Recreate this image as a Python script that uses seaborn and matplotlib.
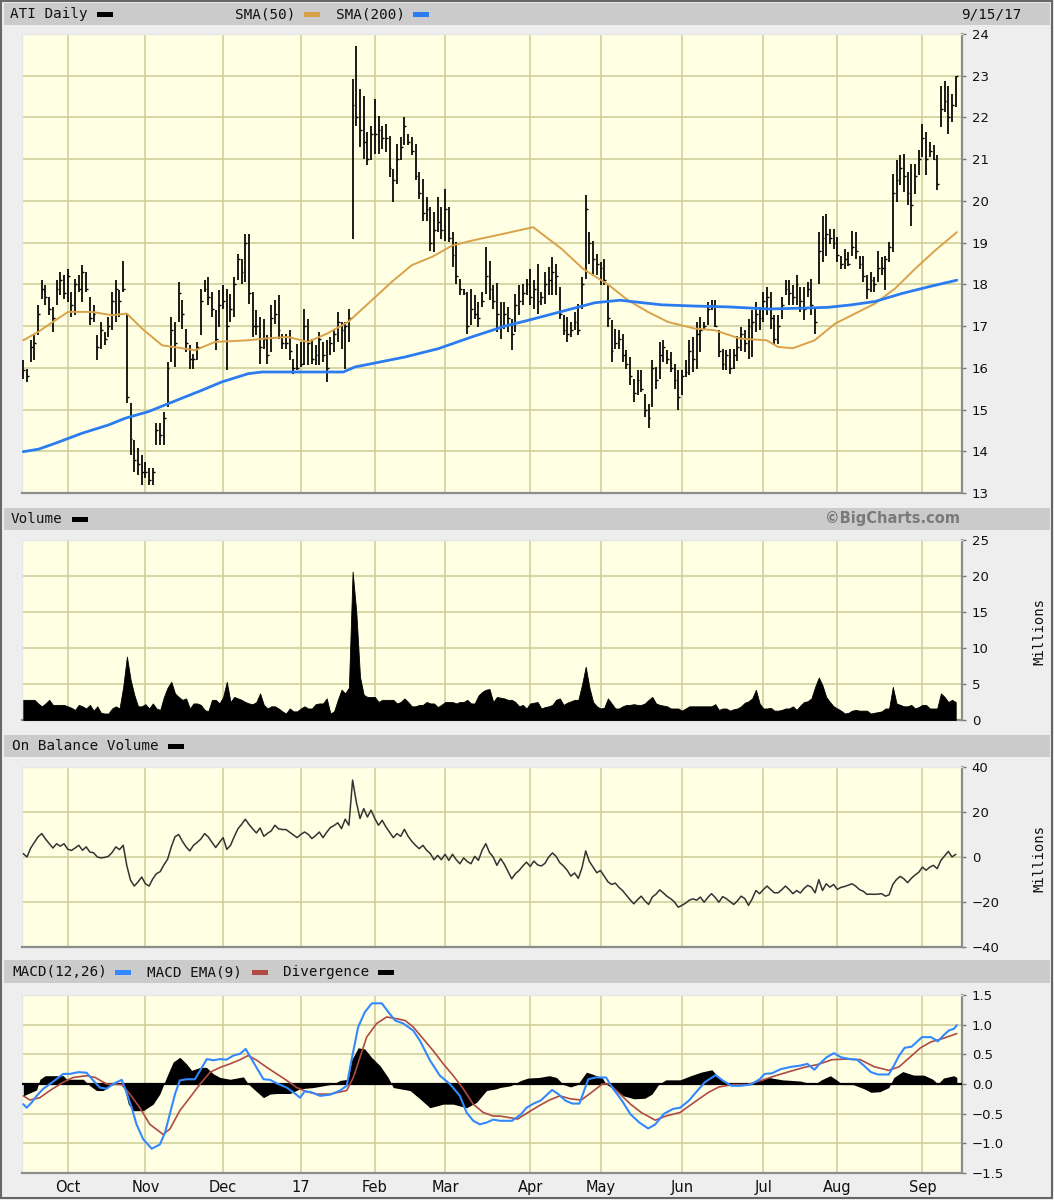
import numpy as np
import pandas as pd
import matplotlib
matplotlib.use("Agg")
import matplotlib.pyplot as plt
import seaborn as sns
from matplotlib.patches import Rectangle

sns.set_style("white")
plt.rcParams['font.family'] = ['DejaVu Sans']

# ---------------- data ----------------
holidays = ["2016-11-24", "2016-12-26", "2017-01-02", "2017-01-16", "2017-02-20",
            "2017-04-14", "2017-05-29", "2017-07-04", "2017-09-04"]
dates = pd.bdate_range("2016-09-15", "2017-09-15", freq="C", holidays=holidays)

highs = [
    16.18, 15.98, 16.66, 16.78, 17.50, 18.10, 17.98, 17.70, 17.46, 18.10,
    18.30, 18.22, 18.38, 17.82, 18.14, 18.22, 18.46, 18.30, 17.70, 17.50,
    16.78, 17.10, 16.86, 17.22, 17.82, 18.10, 17.86, 18.57, 17.30, 15.15,
    14.27, 14.07, 13.91, 13.75, 13.59, 13.59, 14.67, 14.67, 14.95, 16.14,
    17.22, 17.10, 18.06, 17.62, 16.94, 16.54, 16.34, 16.62, 17.90, 18.10,
    18.18, 17.82, 17.38, 17.86, 17.98, 17.90, 17.78, 18.18, 18.73, 18.61,
    19.21, 19.21, 17.82, 17.38, 17.22, 17.18, 16.78, 17.50, 17.62, 17.74,
    16.82, 16.82, 16.90, 16.22, 16.58, 16.62, 17.42, 17.18, 16.70, 16.54,
    16.86, 16.62, 16.66, 16.74, 16.94, 17.34, 17.10, 17.10, 17.42, 22.92,
    23.72, 22.68, 22.52, 21.64, 21.80, 22.44, 22.04, 21.80, 21.84, 21.56,
    20.77, 21.37, 21.52, 22.00, 21.60, 21.52, 21.37, 20.69, 20.53, 20.09,
    19.85, 19.73, 20.09, 19.85, 20.29, 19.85, 19.25, 19.01, 18.14, 17.90,
    17.82, 17.90, 17.74, 17.58, 17.82, 18.89, 18.57, 17.98, 18.04, 17.58,
    17.58, 17.46, 17.18, 17.78, 17.98, 18.02, 18.14, 18.37, 18.10, 18.49,
    17.82, 18.30, 18.41, 18.65, 18.49, 17.94, 17.26, 17.22, 17.10, 17.34,
    17.54, 18.18, 20.13, 19.25, 19.05, 18.73, 18.53, 18.61, 17.98, 17.14,
    16.94, 16.90, 16.82, 16.42, 16.26, 15.74, 15.94, 15.94, 15.38, 15.14,
    16.18, 16.02, 16.62, 16.66, 16.42, 16.38, 16.10, 15.94, 15.94, 16.18,
    16.66, 16.74, 17.10, 17.22, 17.10, 17.58, 17.62, 17.62, 16.90, 16.46,
    16.42, 16.46, 16.46, 16.76, 16.98, 16.90, 17.18, 17.38, 17.58, 17.46,
    17.82, 17.94, 17.82, 17.26, 17.26, 17.70, 18.10, 18.10, 17.98, 18.22,
    17.94, 17.94, 18.06, 18.14, 17.42, 19.25, 19.65, 19.69, 19.33, 19.33,
    19.13, 18.69, 18.85, 18.77, 19.29, 19.25, 18.69, 18.69, 18.22, 18.30,
    18.18, 18.81, 18.65, 18.69, 19.01, 20.65, 20.97, 21.09, 21.13, 20.69,
    20.89, 20.89, 21.21, 21.84, 21.64, 21.40, 21.33, 21.09, 22.76, 22.88,
    22.76, 22.56, 23.00]

lows = [
    15.74, 15.66, 16.14, 16.18, 16.78, 17.66, 17.50, 17.26, 16.86, 17.50,
    17.74, 17.66, 17.58, 17.22, 17.26, 17.82, 17.58, 17.82, 17.02, 17.10,
    16.18, 16.46, 16.54, 16.74, 16.90, 17.10, 17.22, 17.82, 15.15, 13.91,
    13.51, 13.43, 13.19, 13.35, 13.19, 13.19, 14.15, 14.15, 14.15, 15.06,
    16.14, 16.02, 17.10, 16.94, 16.38, 15.98, 15.98, 16.18, 16.78, 17.82,
    17.50, 17.22, 16.42, 16.98, 17.42, 15.94, 17.10, 17.22, 18.10, 18.02,
    18.06, 17.54, 16.74, 16.78, 16.10, 16.46, 16.10, 16.38, 17.06, 16.70,
    16.46, 16.46, 16.18, 15.86, 15.94, 16.02, 16.06, 16.06, 16.10, 16.06,
    16.06, 16.14, 15.66, 16.30, 16.38, 16.62, 16.46, 15.98, 16.62, 19.09,
    21.80, 21.29, 21.00, 20.85, 20.97, 21.13, 21.13, 21.25, 21.17, 20.57,
    19.97, 20.41, 20.97, 21.33, 21.33, 21.09, 20.49, 20.05, 19.53, 19.53,
    18.81, 18.77, 19.25, 19.09, 19.05, 19.01, 18.41, 18.02, 17.74, 17.74,
    16.82, 17.02, 17.18, 16.98, 17.46, 17.78, 17.62, 17.42, 16.85, 16.70,
    16.94, 16.86, 16.42, 16.86, 17.26, 17.50, 17.74, 17.50, 17.42, 17.30,
    17.50, 17.54, 17.74, 17.74, 17.74, 17.18, 16.78, 16.62, 16.74, 16.90,
    16.78, 17.42, 18.14, 18.49, 18.22, 18.22, 17.98, 17.98, 16.98, 16.14,
    16.46, 16.46, 16.14, 15.98, 15.58, 15.18, 15.34, 15.42, 14.83, 14.55,
    15.06, 15.50, 15.74, 16.14, 16.10, 15.90, 15.50, 14.99, 15.34, 15.78,
    15.82, 15.90, 15.98, 16.38, 16.90, 17.02, 17.38, 16.98, 16.26, 15.94,
    15.94, 15.86, 15.98, 16.16, 16.40, 16.38, 16.22, 16.26, 16.86, 16.90,
    17.10, 17.26, 16.94, 16.54, 16.58, 17.18, 17.74, 17.50, 17.50, 17.50,
    17.34, 17.14, 17.70, 17.26, 16.82, 18.02, 18.53, 18.69, 18.97, 18.85,
    18.53, 18.37, 18.37, 18.45, 18.69, 18.61, 18.37, 18.06, 17.66, 17.82,
    17.82, 18.06, 18.22, 17.86, 18.53, 18.77, 19.97, 20.37, 20.21, 19.89,
    19.41, 20.17, 20.61, 21.05, 20.61, 21.05, 20.97, 20.25, 21.76, 22.12,
    21.60, 21.88, 22.24]

closes = [
    15.95, 15.80, 16.50, 16.60, 17.30, 17.90, 17.70, 17.40, 17.20, 17.90,
    18.10, 17.80, 18.20, 17.50, 18.00, 17.90, 18.30, 17.90, 17.20, 17.30,
    16.50, 16.90, 16.70, 17.00, 17.60, 17.90, 17.60, 17.90, 15.30, 14.30,
    13.80, 13.70, 13.50, 13.50, 13.30, 13.50, 14.50, 14.40, 14.80, 16.00,
    16.90, 16.60, 17.80, 17.30, 16.60, 16.20, 16.20, 16.50, 17.60, 17.90,
    17.70, 17.40, 16.70, 17.50, 17.60, 17.00, 17.40, 18.00, 18.60, 18.30,
    19.00, 17.80, 17.00, 17.00, 16.50, 16.70, 16.30, 17.20, 17.30, 16.90,
    16.60, 16.60, 16.40, 16.00, 16.00, 16.10, 17.00, 16.60, 16.20, 16.30,
    16.70, 16.30, 16.00, 16.60, 16.80, 17.10, 16.90, 17.00, 17.20, 22.30,
    22.00, 21.70, 21.40, 21.00, 21.60, 21.60, 21.70, 21.50, 21.50, 20.80,
    20.50, 21.00, 21.30, 21.80, 21.40, 21.20, 20.60, 20.20, 19.70, 19.80,
    19.00, 19.30, 19.50, 19.30, 19.80, 19.10, 18.70, 18.20, 17.90, 17.80,
    17.00, 17.40, 17.30, 17.20, 17.60, 18.20, 17.90, 17.60, 17.30, 17.00,
    17.30, 17.20, 16.80, 17.50, 17.60, 17.80, 18.00, 17.70, 17.90, 17.60,
    17.70, 18.00, 18.10, 18.30, 18.20, 17.30, 16.90, 16.80, 16.90, 17.10,
    16.90, 18.00, 19.80, 19.00, 18.60, 18.50, 18.40, 18.10, 17.20, 16.40,
    16.60, 16.70, 16.30, 16.10, 15.80, 15.40, 15.70, 15.50, 15.00, 14.80,
    16.00, 15.70, 16.30, 16.50, 16.20, 16.00, 15.70, 15.30, 15.80, 15.90,
    16.40, 16.20, 16.80, 16.90, 17.00, 17.40, 17.50, 17.00, 16.40, 16.10,
    16.30, 16.00, 16.30, 16.50, 16.80, 16.60, 17.00, 17.10, 17.30, 17.20,
    17.60, 17.70, 17.20, 16.70, 17.00, 17.50, 17.90, 17.80, 17.70, 18.00,
    17.60, 17.40, 17.90, 17.50, 17.10, 18.80, 19.10, 19.20, 19.10, 19.00,
    18.70, 18.50, 18.60, 18.50, 18.90, 18.80, 18.50, 18.20, 17.90, 18.10,
    18.00, 18.40, 18.40, 18.60, 18.90, 20.20, 20.50, 20.80, 20.60, 20.20,
    19.90, 20.60, 21.00, 21.50, 21.00, 21.20, 21.00, 20.40, 22.20, 22.40,
    22.00, 22.30, 23.00]

volume_m = [
    2.8, 2.8, 2.8, 2.8, 2.3, 1.9, 2.3, 2.8, 2.1, 2.1,
    2.1, 2.1, 1.9, 1.7, 1.4, 2.1, 1.9, 1.6, 2.1, 1.3,
    1.9, 1.0, 0.9, 0.9, 1.6, 1.9, 1.6, 4.6, 8.8, 5.6,
    3.5, 1.9, 1.9, 2.2, 1.6, 2.3, 1.6, 1.4, 3.2, 4.5,
    5.3, 3.7, 3.2, 2.8, 3.0, 1.6, 2.3, 2.3, 2.1, 1.4,
    1.2, 2.8, 2.8, 2.3, 3.2, 5.3, 2.5, 3.2, 3.0, 2.8,
    2.5, 2.3, 2.2, 2.5, 3.7, 2.1, 1.6, 1.9, 1.9, 1.6,
    1.2, 0.9, 1.6, 1.2, 1.2, 1.6, 1.9, 1.6, 1.6, 2.2,
    2.3, 2.3, 3.0, 0.9, 1.2, 2.8, 4.2, 3.7, 4.5, 20.6,
    15.0, 6.0, 3.5, 3.2, 3.2, 3.2, 2.5, 2.8, 2.8, 2.8,
    2.8, 2.3, 2.5, 3.0, 2.5, 1.9, 1.9, 2.1, 2.1, 2.5,
    2.3, 2.3, 1.8, 2.1, 2.5, 2.5, 2.5, 2.3, 2.5, 2.5,
    2.8, 2.3, 2.3, 3.4, 3.9, 4.2, 4.3, 2.5, 3.2, 3.1,
    3.0, 2.8, 2.8, 2.5, 1.9, 2.1, 1.6, 2.3, 2.4, 2.5,
    1.6, 1.8, 1.9, 2.1, 2.8, 3.0, 2.1, 2.4, 2.6, 2.8,
    2.8, 4.9, 7.4, 4.5, 2.5, 1.9, 1.6, 1.7, 3.0, 2.3,
    1.6, 1.6, 1.9, 2.1, 2.1, 2.2, 2.1, 2.1, 2.3, 2.8,
    3.2, 2.3, 2.1, 2.0, 1.9, 1.6, 1.6, 1.6, 1.3, 1.6,
    1.9, 1.9, 1.9, 1.9, 1.9, 1.9, 1.9, 2.2, 1.4, 1.6,
    1.6, 1.3, 1.5, 1.6, 1.9, 2.4, 2.6, 3.0, 4.2, 2.3,
    1.6, 1.6, 1.7, 1.3, 1.3, 1.4, 1.6, 1.6, 1.9, 1.4,
    2.0, 2.5, 2.6, 3.0, 4.6, 5.9, 4.8, 3.2, 2.5, 1.9,
    1.6, 1.3, 0.9, 1.0, 1.3, 1.4, 1.3, 1.3, 1.3, 0.9,
    1.0, 1.1, 1.2, 1.6, 1.6, 4.6, 2.3, 2.1, 1.9, 1.9,
    2.1, 1.6, 1.8, 2.1, 2.1, 1.6, 1.6, 1.6, 3.7, 3.2,
    2.5, 2.8, 2.5]

obv_m = [
    1.5, 0.0, 4.0, 6.5, 9.0, 10.4, 8.0, 6.0, 4.0, 5.9,
    4.8, 5.9, 3.5, 2.9, 4.0, 5.2, 3.0, 4.5, 2.2, 1.9,
    0.0, -0.4, -0.2, 0.3, 2.0, 4.5, 3.3, 5.2, -4.0, -10.4,
    -12.9, -11.1, -8.9, -11.9, -12.9, -9.7, -7.4, -6.5, -3.5, -1.0,
    4.5, 9.0, 10.0, 7.0, 4.5, 2.7, 5.2, 6.5, 8.0, 10.4,
    8.9, 6.5, 4.2, 6.5, 8.6, 3.4, 5.2, 9.0, 12.5, 14.5,
    16.8, 14.5, 12.5, 10.7, 12.9, 9.2, 10.5, 11.6, 14.1, 12.5,
    12.2, 12.2, 11.0, 9.8, 8.6, 10.0, 11.1, 10.1, 8.2, 9.5,
    11.1, 8.6, 11.0, 13.1, 14.0, 15.2, 12.6, 16.8, 14.1, 34.2,
    24.5, 17.1, 21.5, 17.8, 20.8, 17.1, 14.1, 16.3, 13.4, 11.0,
    8.6, 10.4, 9.2, 12.3, 9.2, 7.0, 5.2, 3.7, 5.2, 3.0,
    1.5, -1.2, 0.7, -1.2, 1.2, -1.5, 1.2, -1.2, -3.0, -0.4,
    -2.0, -3.0, 0.3, -1.5, 3.0, 5.9, 2.0, 0.0, -3.7, -0.7,
    -3.2, -6.5, -9.7, -7.4, -6.0, -4.0, -2.3, -4.2, -1.8, -3.5,
    -4.0, -2.8, 0.0, 1.8, 0.3, -2.5, -4.0, -5.9, -8.5, -7.1,
    -9.5, -4.8, 2.7, -2.0, -4.5, -7.0, -6.0, -8.5, -11.0, -12.2,
    -11.6, -13.5, -15.0, -17.0, -19.0, -20.8, -19.0, -17.4, -19.5, -21.1,
    -17.8, -16.5, -14.6, -16.0, -17.5, -18.6, -20.0, -22.3, -21.5, -20.5,
    -19.2, -18.6, -19.2, -17.8, -20.1, -18.0, -16.3, -18.0, -20.1, -17.6,
    -18.5, -19.8, -21.1, -19.5, -17.4, -18.5, -21.5, -18.6, -14.9, -16.3,
    -14.5, -12.9, -14.5, -15.9, -15.9, -14.5, -12.9, -14.5, -16.3, -14.9,
    -16.0, -14.0, -12.6, -13.4, -15.9, -10.1, -14.9, -11.9, -13.4, -12.2,
    -14.4, -13.5, -13.1, -12.5, -11.9, -13.0, -14.5, -15.2, -16.6, -16.5,
    -16.6, -16.5, -16.3, -17.4, -16.8, -12.2, -10.0, -8.6, -9.7, -11.4,
    -9.5, -8.0, -6.8, -4.5, -5.9, -4.5, -3.7, -5.2, -1.5, 0.5,
    2.5, 0.0, 1.2]

# moving averages (trading-day index, price)
sma50_day = [0, 4.0, 8.0, 12.1, 18.6, 24.0, 28.0, 32.1, 37.5, 42.9, 46.4, 51.8,
             60.7, 65.3, 71.5, 76.9, 82.1, 87.8, 94.2, 99.6, 105.0, 110.5, 115.9,
             121.3, 130.2, 137.8, 145.5, 151.3, 158.0, 163.4, 168.8, 174.2, 181.5,
             186.9, 193.7, 200.9, 204.0, 208.0, 213.9, 219.4, 224.8, 230.2, 235.6,
             241.0, 246.4, 252.3]
sma50_val = [16.66, 16.86, 17.10, 17.34, 17.34, 17.26, 17.30, 16.94, 16.54, 16.47,
             16.42, 16.62, 16.66, 16.70, 16.74, 16.62, 16.82, 17.10, 17.62, 18.06,
             18.46, 18.66, 18.93, 19.05, 19.22, 19.37, 18.85, 18.37, 18.00, 17.62,
             17.34, 17.10, 16.94, 16.90, 16.70, 16.66, 16.50, 16.47, 16.66, 17.06,
             17.30, 17.54, 17.90, 18.37, 18.81, 19.25]
sma200_day = [0, 4.1, 8.6, 15.8, 23.0, 27.5, 33.8, 38.3, 42.8, 48.2, 53.6, 57.2,
              60.8, 64.5, 71.6, 86.5, 89.6, 94.2, 103.2, 112.2, 121.2, 130.2, 136.5,
              145.5, 154.5, 161.3, 165.3, 172.5, 181.5, 190.5, 201.4, 210.4, 217.6,
              223.9, 230.2, 237.4, 244.6, 252.3]
sma200_val = [13.99, 14.05, 14.19, 14.43, 14.63, 14.79, 14.95, 15.11, 15.27, 15.46,
              15.66, 15.76, 15.86, 15.90, 15.90, 15.90, 16.02, 16.10, 16.26, 16.46,
              16.74, 17.00, 17.14, 17.35, 17.56, 17.62, 17.58, 17.51, 17.48, 17.46,
              17.41, 17.43, 17.45, 17.51, 17.59, 17.78, 17.94, 18.10]

# MACD(12,26), its EMA(9) and divergence
macd_day = [0, 0.9, 2.3, 3.6, 5.4, 7.2, 9.5, 10.8, 12.6, 14.9, 17.1, 18.9, 20.7,
            22.5, 24.3, 26.6, 27.9, 29.3, 30.6, 32.4, 34.7, 36.9, 38.3, 39.6, 41.0,
            42.3, 44.1, 46.4, 47.8, 49.6, 51.4, 53.2, 54.9, 56.8, 58.6, 60.1, 61.7,
            63.5, 64.9, 66.7, 68.5, 71.2, 73.4, 74.8, 76.1, 77.9, 80.2, 82.9, 85.6,
            87.4, 88.7, 90.5, 92.3, 94.2, 96.9, 98.7, 100.5, 102.7, 105.4, 107.2,
            109.9, 112.6, 115.3, 118.0, 119.8, 121.6, 123.4, 125.2, 127.0, 128.8,
            132.1, 134.5, 136.0, 137.9, 139.8, 141.2, 142.9, 144.6, 146.5, 148.4,
            150.3, 152.7, 154.6, 157.5, 159.4, 161.8, 164.1, 166.5, 168.9, 170.8,
            173.2, 175.6, 177.5, 179.9, 181.8, 184.2, 187.1, 189.0, 191.4, 193.7,
            196.6, 199.0, 200.4, 202.3, 204.7, 207.6, 210.0, 211.9, 213.8, 215.2,
            217.1, 219.1, 221.0, 223.4, 225.3, 227.2, 229.1, 231.0, 233.9, 235.3,
            236.7, 238.2, 240.1, 241.5, 242.9, 245.3, 247.2, 248.7, 250.1, 251.5,
            252.3]
macd_val = [-0.34, -0.40, -0.31, -0.20, -0.08, 0.00, 0.11, 0.17, 0.17, 0.20, 0.19,
            0.06, -0.06, -0.08, 0.00, 0.07, -0.14, -0.40, -0.68, -0.93, -1.09, -1.02,
            -0.82, -0.51, -0.17, 0.06, 0.08, 0.08, 0.23, 0.42, 0.40, 0.42, 0.41, 0.48,
            0.51, 0.59, 0.42, 0.23, 0.08, 0.07, 0.01, -0.06, -0.16, -0.23, -0.12,
            -0.14, -0.20, -0.18, -0.11, -0.03, 0.40, 0.96, 1.21, 1.36, 1.36, 1.21,
            1.07, 1.02, 0.90, 0.73, 0.40, 0.14, 0.00, -0.20, -0.48, -0.62, -0.68,
            -0.65, -0.60, -0.62, -0.62, -0.51, -0.40, -0.33, -0.28, -0.20, -0.10,
            -0.17, -0.28, -0.33, -0.33, 0.08, 0.11, 0.11, -0.08, -0.28, -0.51, -0.65,
            -0.75, -0.68, -0.50, -0.42, -0.40, -0.28, -0.14, 0.03, 0.15, 0.06, -0.03,
            -0.03, -0.01, 0.08, 0.17, 0.18, 0.25, 0.29, 0.31, 0.34, 0.24, 0.34, 0.45,
            0.52, 0.45, 0.42, 0.41, 0.31, 0.20, 0.16, 0.16, 0.31, 0.48, 0.61, 0.63,
            0.71, 0.79, 0.79, 0.72, 0.82, 0.90, 0.93, 0.99]
signal_day = [0, 1.8, 4.5, 7.2, 10.8, 13.5, 17.1, 19.4, 22.5, 26.6, 28.8, 31.5,
              34.2, 37.8, 39.6, 42.3, 45.0, 47.8, 50.5, 53.2, 55.9, 58.6, 60.8, 63.1,
              65.8, 68.5, 71.2, 73.9, 76.6, 79.3, 82.9, 87.4, 89.2, 91.0, 92.8, 95.5,
              98.2, 100.9, 103.2, 105.4, 108.1, 110.8, 113.5, 116.2, 118.9, 121.6,
              124.3, 127.0, 128.8, 133.6, 136.4, 139.3, 142.2, 145.0, 147.9, 150.8,
              153.6, 156.5, 158.4, 161.3, 164.1, 167.0, 170.8, 173.7, 177.5, 181.3,
              185.2, 188.0, 191.8, 195.7, 199.5, 203.3, 207.1, 211.0, 214.8, 218.6,
              222.4, 226.2, 230.0, 233.9, 236.7, 239.6, 242.5, 245.3, 248.2, 252.3]
signal_val = [-0.20, -0.27, -0.23, -0.11, 0.03, 0.11, 0.14, 0.11, 0.00, -0.01, -0.17,
              -0.40, -0.68, -0.85, -0.76, -0.45, -0.23, 0.00, 0.20, 0.28, 0.34, 0.41,
              0.48, 0.40, 0.28, 0.17, 0.06, -0.06, -0.13, -0.17, -0.17, -0.11, 0.11,
              0.45, 0.79, 1.02, 1.13, 1.10, 1.07, 0.96, 0.76, 0.56, 0.34, 0.14, -0.08,
              -0.34, -0.48, -0.54, -0.54, -0.59, -0.48, -0.37, -0.27, -0.20, -0.25,
              -0.27, -0.14, 0.00, 0.00, -0.17, -0.34, -0.48, -0.61, -0.54, -0.48,
              -0.31, -0.14, -0.05, -0.01, -0.01, 0.06, 0.14, 0.21, 0.28, 0.33, 0.41,
              0.42, 0.41, 0.29, 0.23, 0.29, 0.45, 0.61, 0.71, 0.76, 0.85]
div_day = [0, 3.6, 4.5, 5.9, 10.8, 11.7, 16.2, 18.0, 19.8, 21.6, 23.4, 24.8, 27.0,
           28.4, 29.7, 32.4, 35.1, 36.9, 38.7, 40.5, 42.3, 44.1, 45.5, 47.8, 49.5,
           51.4, 53.2, 55.9, 59.5, 60.8, 62.2, 64.9, 66.7, 68.5, 72.1, 74.8, 78.4,
           81.1, 83.8, 85.6, 87.8, 88.7, 90.5, 92.3, 94.1, 96.4, 98.6, 100.0, 101.8,
           104.5, 107.2, 109.9, 113.5, 116.2, 119.8, 122.5, 125.2, 127.9, 128.8,
           131.7, 134.5, 136.4, 139.3, 142.2, 144.1, 146.0, 147.9, 149.8, 152.2,
           154.1, 156.5, 157.5, 159.4, 162.2, 165.1, 168.0, 169.9, 171.8, 173.7,
           177.5, 180.4, 183.2, 186.1, 187.5, 189.9, 192.8, 195.7, 198.5, 201.4,
           205.2, 210.0, 213.8, 215.7, 218.1, 220.0, 221.4, 224.3, 227.2, 229.1,
           231.5, 233.9, 235.3, 237.7, 240.6, 243.4, 245.8, 247.2, 248.7, 251.5,
           252.3]
div_val = [-0.20, -0.10, 0.08, 0.14, 0.14, 0.08, 0.08, -0.03, -0.11, -0.11, -0.03,
           0.00, 0.00, -0.34, -0.45, -0.45, -0.34, -0.17, 0.11, 0.37, 0.45, 0.34,
           0.23, 0.28, 0.28, 0.17, 0.11, 0.08, 0.12, 0.00, -0.08, -0.23, -0.17,
           -0.16, -0.16, -0.08, -0.06, -0.03, 0.00, 0.06, 0.08, 0.40, 0.61, 0.59,
           0.45, 0.31, 0.11, -0.06, -0.08, -0.11, -0.25, -0.40, -0.34, -0.34, -0.40,
           -0.31, -0.11, -0.08, -0.06, -0.03, 0.06, 0.10, 0.11, 0.14, 0.11, -0.01,
           -0.05, -0.01, 0.20, 0.16, 0.10, 0.00, -0.08, -0.20, -0.25, -0.24, -0.17,
           0.00, 0.07, 0.07, 0.14, 0.20, 0.24, 0.14, 0.03, -0.03, -0.01, 0.06, 0.11,
           0.07, 0.05, -0.01, 0.07, 0.14, 0.06, -0.01, -0.01, -0.08, -0.14, -0.13,
           -0.06, 0.11, 0.21, 0.15, 0.15, 0.08, 0.00, 0.10, 0.14, 0.11]

month_labels = ["Oct", "Nov", "Dec", "17", "Feb", "Mar", "Apr", "May", "Jun", "Jul", "Aug", "Sep"]
price_ticks = list(range(13, 25))
volume_ticks = [0, 5, 10, 15, 20, 25]
obv_ticks = [-40, -20, 0, 20, 40]
macd_ticks = [-1.5, -1.0, -0.5, 0.0, 0.5, 1.0, 1.5]

# ---------------- layout helpers ----------------
n = min(len(highs), len(lows), len(closes), len(volume_m), len(obv_m), len(dates))
dates = dates[:n]
x = np.arange(n)
month_pos = [i for i in range(1, n) if dates[i].month != dates[i - 1].month]

W, H = 1054, 1200
fig = plt.figure(figsize=(W / 100, H / 100), dpi=100)
fig.patch.set_facecolor("#eeeeee")

def frect(x0, y0, x1, y1, **kw):
    fig.patches.append(Rectangle((x0 / W, 1 - y1 / H), (x1 - x0) / W, (y1 - y0) / H,
                                 transform=fig.transFigure, **kw))

def ftext(px, py, s, **kw):
    fig.text(px / W, 1 - py / H, s, **kw)

MONO = "DejaVu Sans Mono"
BG = "#ffffe4"
GRID = "#cfcf9c"

# outer frame
frect(1, 1, W - 2, H - 2, fill=False, edgecolor="#666666", lw=1.5)

# header bars
for (y0, y1) in [(3, 25), (508, 530), (735, 757), (960, 983)]:
    frect(4, y0, W - 4, y1, color="#cbcbcb", lw=0)

def swatch(x0, yc, color):
    frect(x0, yc - 2.5, x0 + 16, yc + 2.5, color=color, lw=0)

hs = 10.3
ftext(10, 14, "ATI Daily", family=MONO, fontsize=hs, va="center", color="#111")
swatch(97, 14, "black")
ftext(235, 14, "SMA(50)", family=MONO, fontsize=hs, va="center", color="#111")
swatch(304, 14, "#d9a24a")
ftext(336, 14, "SMA(200)", family=MONO, fontsize=hs, va="center", color="#111")
swatch(413, 14, "#2a7cf0")
ftext(1022, 14, "9/15/17", family=MONO, fontsize=hs, va="center", ha="right", color="#111")

ftext(11, 519, "Volume", family=MONO, fontsize=hs, va="center", color="#111")
swatch(72, 519, "black")
ftext(960, 519, "\u00a9BigCharts.com", fontsize=10.5, fontweight="bold", va="center",
      ha="right", color="#7a7a7a")

ftext(12, 746, "On Balance Volume", family=MONO, fontsize=hs, va="center", color="#111")
swatch(168, 746, "black")

ftext(12, 972, "MACD(12,26)", family=MONO, fontsize=hs, va="center", color="#111")
swatch(115, 972, "#3388ff")
ftext(147, 972, "MACD EMA(9)", family=MONO, fontsize=hs, va="center", color="#111")
swatch(252, 972, "#b04a42")
ftext(283, 972, "Divergence", family=MONO, fontsize=hs, va="center", color="#111")
swatch(378, 972, "black")

ftext(1039, 632, "Millions", family=MONO, fontsize=10, rotation=90, va="center", ha="center", color="#111")
ftext(1039, 858, "Millions", family=MONO, fontsize=10, rotation=90, va="center", ha="center", color="#111")

def make_ax(top, bottom, yticks, ylim, fmt):
    ax = fig.add_axes([22 / W, 1 - bottom / H, 940 / W, (bottom - top) / H])
    ax.set_facecolor(BG)
    ax.set_xlim(-0.35, n + 0.7)
    ax.set_ylim(*ylim)
    ax.set_yticks(yticks, labels=[fmt(v) for v in yticks])
    ax.set_xticks(month_pos)
    ax.yaxis.tick_right()
    ax.tick_params(axis="y", length=3, width=1, color="#777777", labelsize=9.5,
                   pad=4, labelcolor="#111111")
    ax.tick_params(axis="x", length=0, labelbottom=False)
    ax.grid(True, color=GRID, lw=1.2)
    ax.set_axisbelow(True)
    for s in ["top", "left"]:
        ax.spines[s].set_color("#e6e6e6")
        ax.spines[s].set_linewidth(1.0)
    for s in ["bottom", "right"]:
        ax.spines[s].set_color("#8c8c8c")
        ax.spines[s].set_linewidth(1.6)
    return ax

minus = lambda s: s.replace("-", "\u2212")
ax_p = make_ax(34, 493, price_ticks, (13, 24), lambda v: f"{v:d}")
ax_v = make_ax(540, 720, volume_ticks, (0, 25), lambda v: f"{v:d}")
ax_o = make_ax(767, 947, obv_ticks, (-40, 40), lambda v: minus(f"{v:d}"))
ax_m = make_ax(995, 1173, macd_ticks, (-1.5, 1.5), lambda v: minus(f"{v:.1f}"))

# ---------------- price panel ----------------
ax_p.vlines(x, lows[:n], highs[:n], color="black", lw=1.25, zorder=3)
ax_p.hlines(closes[:n], x, x + 0.5, color="black", lw=1.0, zorder=3)
sns.lineplot(x=sma50_day, y=sma50_val, ax=ax_p, color="#d9a24a", lw=1.4, zorder=4)
sns.lineplot(x=sma200_day, y=sma200_val, ax=ax_p, color="#2a7cf0", lw=2.0, zorder=4)

# ---------------- volume panel ----------------
ax_v.fill_between(x, volume_m[:n], 0, color="black", lw=0.6, edgecolor="black", zorder=3)

# ---------------- OBV panel ----------------
sns.lineplot(x=x, y=obv_m[:n], ax=ax_o, color="#333333", lw=1.1, zorder=3)

# ---------------- MACD panel ----------------
ax_m.fill_between(div_day, div_val, 0, color="black", lw=0, zorder=3)
ax_m.axhline(0, color="black", lw=1.6, zorder=3)
sns.lineplot(x=signal_day, y=signal_val, ax=ax_m, color="#b04a42", lw=1.2, zorder=4)
sns.lineplot(x=macd_day, y=macd_val, ax=ax_m, color="#3388ff", lw=1.5, zorder=5)

ax_m.set_xticks(month_pos, labels=month_labels)
ax_m.tick_params(axis="x", length=0, labelbottom=True, labelsize=10.5, pad=5, labelcolor="#111111")

for ax in (ax_p, ax_v, ax_o, ax_m):
    ax.set_xlabel("")
    ax.set_ylabel("")
    ax.set_xlim(-0.35, n + 0.7)

fig.savefig("out.png", dpi=100, facecolor=fig.get_facecolor())
